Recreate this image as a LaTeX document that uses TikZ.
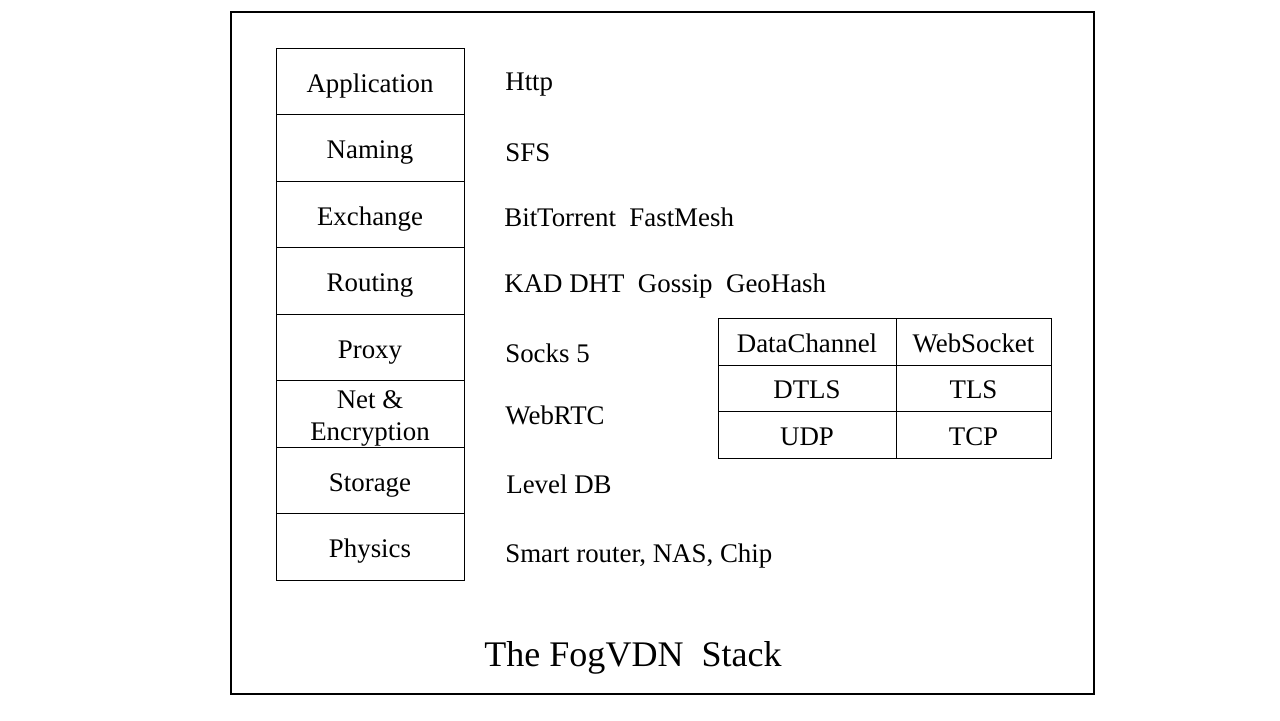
\documentclass[tikz,border=0pt]{standalone}
\usepackage{fontspec}
\setmainfont{Liberation Serif}
\usetikzlibrary{positioning}
\tikzset{
  layer/.style={draw, minimum width=3.76cm, minimum height=1.33cm, inner sep=0pt, outer sep=0pt,
    align=center, text height=12.4pt, text depth=0.3pt, font=\fontsize{15.3}{18}\selectfont},
  proto/.style={anchor=base west, inner sep=0pt, font=\fontsize{15.3}{18}\selectfont},
  cell/.style={draw, minimum height=0.935cm, inner sep=0pt, outer sep=0pt,
    text height=12.4pt, text depth=0.3pt, font=\fontsize{15.3}{18}\selectfont},
  wide/.style={cell, minimum width=3.56cm},
  narrow/.style={cell, minimum width=3.1cm}
}
\begin{document}
\begin{tikzpicture}[x=0.02cm, y=-0.02cm]
\useasboundingbox (0,0) rectangle (1280,720);
\draw[line width=0.9pt] (231,12) rectangle (1094,694);

% the layers
\node[layer] (app) at (370,81.5) {Application};
\node[layer, below=0pt of app] (naming) {Naming};
\node[layer, below=0pt of naming] (exchange) {Exchange};
\node[layer, below=0pt of exchange] (routing) {Routing};
\node[layer, below=0pt of routing] (proxy) {Proxy};
\node[layer, below=0pt of proxy, text height=30.3pt, text depth=0pt] (net) {Net \&\\Encryption};
\node[layer, below=0pt of net] (storage) {Storage};
\node[layer, below=0pt of storage] (physics) {Physics};

% what each layer uses
\node[proto] (http) at (505,90) {Http};
\node[proto] (sfs) at (505,161) {SFS};
\node[proto] (bt) at (504,226) {BitTorrent~~FastMesh};
\node[proto] (kad) at (504,292) {KAD DHT~~Gossip~~GeoHash};
\node[proto] (socks) at (505,362) {Socks 5};
\node[proto] (webrtc) at (505,424) {WebRTC};
\node[proto] (leveldb) at (506,493) {Level DB};
\node[proto] (chip) at (505,562) {Smart router, NAS, Chip};

% transports
\node[wide] (dc) at (807,341.5) {DataChannel};
\node[narrow, right=0pt of dc] (ws) {WebSocket};
\node[wide, below=0pt of dc] (dtls) {DTLS};
\node[narrow, right=0pt of dtls] (tls) {TLS};
\node[wide, below=0pt of dtls] (udp) {UDP};
\node[narrow, right=0pt of udp] (tcp) {TCP};

\node[inner sep=0pt, font=\fontsize{20.5}{24}\selectfont] (title) at (633,658) {The FogVDN~~Stack};
\end{tikzpicture}
\end{document}
